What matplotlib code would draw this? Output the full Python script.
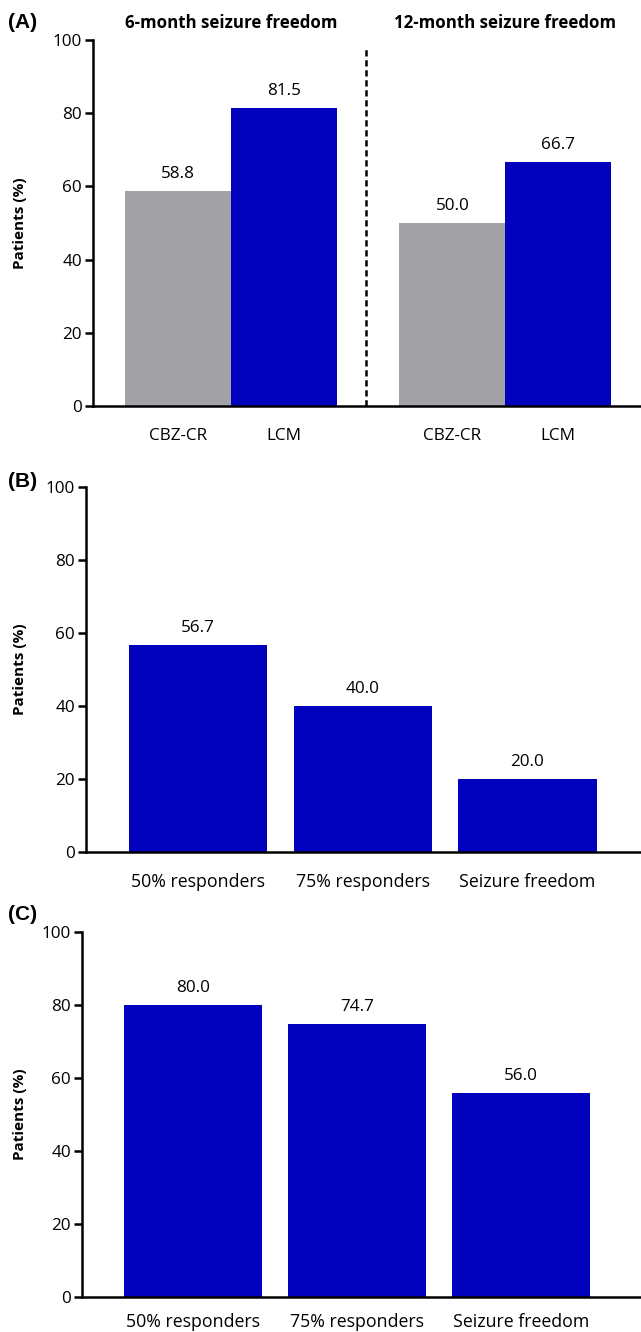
import numpy as np
import matplotlib.pyplot as plt

plt.rcParams['font.family'] = ['Open Sans', 'DejaVu Sans']

# Panel A data
groups_a = ['6-month seizure freedom', '12-month seizure freedom']
arms_a = ['CBZ-CR', 'LCM']
cbz_vals = [58.8, 50.0]
lcm_vals = [81.5, 66.7]

# Panel B / C data
cats_bc = ['50% responders', '75% responders', 'Seizure freedom']
vals_b = [56.7, 40.0, 20.0]
vals_c = [80.0, 74.7, 56.0]

gray = '#a2a1a6'
blue = '#0202be'

fig = plt.figure(figsize=(6.41, 13.32), dpi=100)

def style_axis(ax, xsize=12.3, xpad=15.5):
    ax.spines['top'].set_visible(False)
    ax.spines['right'].set_visible(False)
    ax.spines['left'].set_linewidth(1.8)
    ax.spines['bottom'].set_linewidth(1.8)
    ax.set_ylim(0, 100)
    ax.set_yticks([0, 20, 40, 60, 80, 100])
    ax.tick_params(axis='y', length=6, width=1.8, labelsize=12.3, pad=2)
    ax.tick_params(axis='x', length=0, labelsize=xsize, pad=xpad)
    ax.set_ylabel('Patients (%)', fontsize=11, fontweight='bold')

def label_bars(ax, bars, vals):
    for b, v in zip(bars, vals):
        ax.annotate(f'{v:.1f}', (b.get_x() + b.get_width() / 2, v),
                    xytext=(0, 6.5), textcoords='offset points',
                    ha='center', va='bottom', fontsize=12.3)

def panel_letter(ypix, s):
    fig.text(8 / 641, 1 - ypix / 1332, s, fontsize=15, fontweight='bold',
             family='Liberation Sans', va='center', ha='left')

# Panel A
ax1 = fig.add_axes([0.145, 0.6952, 0.855, 0.2748])
x_cbz = np.array([0, 2.59])
x_lcm = x_cbz + 1
b1 = ax1.bar(x_cbz, cbz_vals, width=1.0, color=gray)
b2 = ax1.bar(x_lcm, lcm_vals, width=1.0, color=blue)
label_bars(ax1, b1, cbz_vals)
label_bars(ax1, b2, lcm_vals)
ax1.plot([1.78, 1.78], [0, 98], color='black', linestyle=(0, (2.5, 1.5)), linewidth=1.8)
ax1.set_xlim(-0.8, 4.37)
ax1.set_xticks(np.concatenate([x_cbz, x_lcm]))
ax1.set_xticklabels([arms_a[0], arms_a[0], arms_a[1], arms_a[1]])
style_axis(ax1)
for xc, g in zip(x_cbz + 0.5, groups_a):
    ax1.text(xc, 1.045, g, transform=ax1.get_xaxis_transform(),
             ha='center', va='center', fontsize=12.2, fontweight='bold')
panel_letter(23, '(A)')

# Panel B
ax2 = fig.add_axes([0.1342, 0.3604, 0.8658, 0.274])
xb = np.arange(len(cats_bc))
bb = ax2.bar(xb, vals_b, width=0.84, color=blue)
label_bars(ax2, bb, vals_b)
ax2.set_xlim(-0.681, 2.69)
ax2.set_xticks(xb)
ax2.set_xticklabels(cats_bc)
style_axis(ax2, xsize=12.8)
panel_letter(481, '(B)')

# Panel C
ax3 = fig.add_axes([0.128, 0.0263, 0.872, 0.274])
xc = np.arange(len(cats_bc))
bc = ax3.bar(xc, vals_c, width=0.84, color=blue)
label_bars(ax3, bc, vals_c)
ax3.set_xlim(-0.677, 2.73)
ax3.set_xticks(xc)
ax3.set_xticklabels(cats_bc)
style_axis(ax3, xsize=12.8, xpad=11.5)
panel_letter(915, '(C)')

# put the y labels at the same place as in the reference
for ax in (ax1, ax2, ax3):
    pos = ax.get_position()
    ax.yaxis.set_label_coords((27 / 641 - pos.x0) / pos.width, 0.5)

fig.savefig('out.png', dpi=100)
